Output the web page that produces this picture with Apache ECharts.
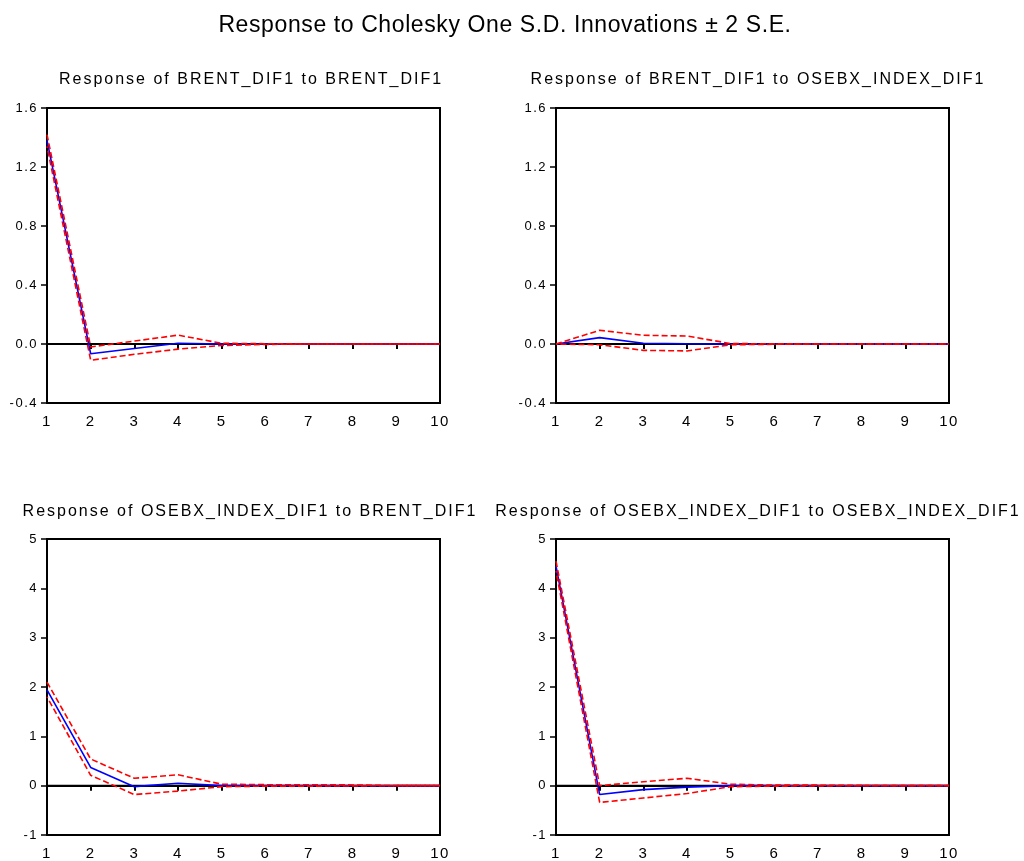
<!DOCTYPE html>
<html>
<head>
<meta charset="utf-8">
<script src="https://cdn.jsdelivr.net/npm/echarts@6/dist/echarts.min.js"></script>
<style>
  html, body { margin: 0; padding: 0; background: #fff; }
  #chart { width: 1024px; height: 861px; }
</style>
</head>
<body>
<div id="chart"></div>
<script>
// Impulse response periods
var periods = [1, 2, 3, 4, 5, 6, 7, 8, 9, 10];

// BRENT_DIF1 -> BRENT_DIF1
var brentBrent      = [1.38, -0.066, -0.03, 0.005, 0.0, 0.0, 0.0, 0.0, 0.0, 0.0];
var brentBrentUp    = [1.42, -0.02, 0.02, 0.06, 0.005, 0.002, 0.0, 0.0, 0.0, 0.0];
var brentBrentLo    = [1.34, -0.11, -0.07, -0.035, -0.01, -0.003, 0.0, 0.0, 0.0, 0.0];

// BRENT_DIF1 -> OSEBX_INDEX_DIF1
var brentOsebx      = [0.0, 0.043, 0.005, 0.002, 0.0, 0.0, 0.0, 0.0, 0.0, 0.0];
var brentOsebxUp    = [0.0, 0.093, 0.059, 0.054, 0.003, 0.001, 0.0, 0.0, 0.0, 0.0];
var brentOsebxLo    = [0.0, -0.005, -0.043, -0.047, -0.005, -0.002, 0.0, 0.0, 0.0, 0.0];

// OSEBX_INDEX_DIF1 -> BRENT_DIF1
var osebxBrent      = [1.94, 0.37, -0.02, 0.05, 0.0, 0.0, 0.0, 0.0, 0.0, 0.0];
var osebxBrentUp    = [2.1, 0.54, 0.15, 0.22, 0.03, 0.02, 0.02, 0.015, 0.0, 0.0];
var osebxBrentLo    = [1.8, 0.21, -0.18, -0.11, -0.02, -0.01, -0.01, -0.005, 0.0, 0.0];

// OSEBX_INDEX_DIF1 -> OSEBX_INDEX_DIF1
var osebxOsebx      = [4.45, -0.18, -0.08, -0.03, 0.0, 0.0, 0.0, 0.0, 0.0, 0.0];
var osebxOsebxUp    = [4.55, 0.0, 0.08, 0.15, 0.03, 0.01, 0.01, 0.005, 0.0, 0.0];
var osebxOsebxLo    = [4.35, -0.34, -0.25, -0.16, -0.02, -0.01, -0.005, 0.0, 0.0, 0.0];

var mainTitle = 'Response to Cholesky One S.D. Innovations \u00b1 2 S.E.';
var panelTitles = [
  'Response of BRENT_DIF1 to BRENT_DIF1',
  'Response of BRENT_DIF1 to OSEBX_INDEX_DIF1',
  'Response of OSEBX_INDEX_DIF1 to BRENT_DIF1',
  'Response of OSEBX_INDEX_DIF1 to OSEBX_INDEX_DIF1'
];

var panels = [
  { mid: brentBrent, up: brentBrentUp, lo: brentBrentLo, min: -0.4, max: 1.6, step: 0.4, dec: 1 },
  { mid: brentOsebx, up: brentOsebxUp, lo: brentOsebxLo, min: -0.4, max: 1.6, step: 0.4, dec: 1 },
  { mid: osebxBrent, up: osebxBrentUp, lo: osebxBrentLo, min: -1, max: 5, step: 1, dec: 0 },
  { mid: osebxOsebx, up: osebxOsebxUp, lo: osebxOsebxLo, min: -1, max: 5, step: 1, dec: 0 }
];

var FONT = 'Liberation Sans, Arial, sans-serif';
var SIZE_MAIN = 23, SIZE_SUB = 16, SIZE_X = 15, SIZE_Y = 13;

// Extra letter spacing per font size, applied when text is painted.
(function () {
  var spacing = {};
  spacing[SIZE_MAIN] = 0.6;
  spacing[SIZE_SUB] = 2.0;
  spacing[SIZE_Y] = 1.5;
  var proto = CanvasRenderingContext2D.prototype;
  var fill = proto.fillText;
  proto.fillText = function (t, x, y, w) {
    var m = /(\d+(?:\.\d+)?)px/.exec(this.font);
    var sp = m ? spacing[parseFloat(m[1])] : 0;
    var prev;
    if (sp && 'letterSpacing' in this) {
      prev = this.letterSpacing;
      this.letterSpacing = sp + 'px';
    }
    if (w === undefined) fill.call(this, t, x, y); else fill.call(this, t, x, y, w);
    if (prev !== undefined) this.letterSpacing = prev;
  };
})();

var grids = [
  { left: 47,  top: 108, width: 393, height: 295 },
  { left: 556, top: 108, width: 393, height: 295 },
  { left: 47,  top: 539, width: 393, height: 296 },
  { left: 556, top: 539, width: 393, height: 296 }
];

function pairs(arr) {
  return periods.map(function (p, i) { return [p, arr[i]]; });
}

var xAxes = [], yAxes = [], series = [], titles = [];

titles.push({
  text: mainTitle,
  left: 500, top: 9, textAlign: 'center',
  textStyle: { fontFamily: FONT, fontSize: SIZE_MAIN, fontWeight: 'normal', color: '#000' }
});

var titleCenters = [246, 753, 245, 753];
var titleTops = [67, 67, 499, 499];

panels.forEach(function (pn, k) {
  grids[k].show = true;
  grids[k].borderColor = '#000';
  grids[k].borderWidth = 2;
  grids[k].backgroundColor = '#fff';

  titles.push({
    text: panelTitles[k],
    left: titleCenters[k], top: titleTops[k], textAlign: 'center',
    textStyle: { fontFamily: FONT, fontSize: SIZE_SUB, fontWeight: 'normal', color: '#000' }
  });

  xAxes.push({
    type: 'value', gridIndex: k, min: 1, max: 10, interval: 1,
    axisLine: { show: true, lineStyle: { color: '#000', width: 2 } },
    axisTick: { show: true, length: 5, lineStyle: { color: '#000', width: 2 } },
    axisLabel: { color: '#000', fontFamily: FONT, fontSize: SIZE_X, margin: 11 },
    splitLine: { show: false }
  });
  yAxes.push({
    type: 'value', gridIndex: k, min: pn.min, max: pn.max, interval: pn.step,
    axisLine: { show: true, lineStyle: { color: '#000', width: 2 } },
    axisTick: { show: true, length: 6, lineStyle: { color: '#000', width: 1.5 } },
    axisLabel: {
      color: '#000', fontFamily: FONT, fontSize: SIZE_Y, margin: 9,
      padding: [0, 0, 5, 0],
      formatter: function (v) { return v.toFixed(pn.dec); }
    },
    splitLine: { show: false }
  });

  // zero reference line
  series.push({
    type: 'line', xAxisIndex: k, yAxisIndex: k, data: [[1, 0], [10, 0]],
    symbol: 'none', silent: true, animation: false,
    lineStyle: { color: '#000', width: 2 }, z: 1
  });
  // point response
  series.push({
    type: 'line', xAxisIndex: k, yAxisIndex: k, data: pairs(pn.mid),
    symbol: 'none', animation: false,
    lineStyle: { color: '#0000ff', width: 1.6 }, z: 2
  });
  // +/- 2 S.E. bands
  series.push({
    type: 'line', xAxisIndex: k, yAxisIndex: k, data: pairs(pn.up),
    symbol: 'none', animation: false,
    lineStyle: { color: '#ff0000', width: 1.6, type: [6, 3], dashOffset: 0 }, z: 3
  });
  series.push({
    type: 'line', xAxisIndex: k, yAxisIndex: k, data: pairs(pn.lo),
    symbol: 'none', animation: false,
    lineStyle: { color: '#ff0000', width: 1.6, type: [6, 3], dashOffset: 4.5 }, z: 3
  });
});

var chart = echarts.init(document.getElementById('chart'), null, { renderer: 'canvas' });
chart.setOption({
  backgroundColor: '#fff',
  animation: false,
  title: titles,
  grid: grids,
  xAxis: xAxes,
  yAxis: yAxes,
  series: series
});
</script>
</body>
</html>
